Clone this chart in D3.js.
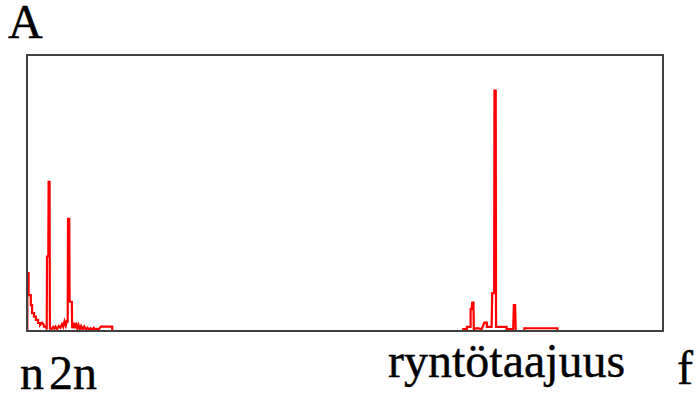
<!DOCTYPE html>
<html>
<head>
<meta charset="utf-8">
<script src="https://cdn.jsdelivr.net/npm/d3@7"></script>
<style>
  body { margin: 0; background: #fff; }
</style>
</head>
<body>
<svg></svg>
<script>
let width = 699, height = 394;

// spectrum near n, 2n (frequency in arbitrary units, amplitude in % of box height)
let lowFreq = [0.1, 0.1, 0.5, 0.5, 1.2, 1.2, 1.6, 1.6, 2.2, 2.2, 2.8, 2.8, 3.5, 3.5, 4.1, 4.1, 4.7, 5.3, 5.3, 6.0,
  6.2, 6.3, 6.7, 6.8, 7.1, 7.2, 7.6, 8.2, 8.6, 9.0, 9.5, 10.0, 10.5, 11.0, 11.4, 11.8, 12.2, 12.6, 12.8,
  12.9, 13.3, 13.4, 14.1, 14.2, 14.6, 15.0, 15.4, 15.8, 16.2, 16.6, 17.0, 17.5, 18.0, 18.5, 19.0, 19.5,
  20.0, 20.5, 21.0, 21.5, 22.0, 22.5, 23.2, 26.8, 26.8];
let lowAmp = [0, 21, 21, 13, 13, 9.4, 9.4, 6.5, 6.5, 5.2, 5.2, 4, 4, 2.9, 2.9, 2.2, 3, 2.2, 1.6, 1.6,
  0.5, 27, 27, 54, 54, 1, 0.5, 1.5, 0.8, 1.6, 0.7, 1.8, 1.2, 2.5, 1.5, 3.5, 2.0, 4.0, 3,
  40.6, 40.6, 10.6, 10.6, 1, 3, 1, 3, 0.8, 2.2, 0.6, 1.8, 0.6, 1.6, 0.5, 1.2, 0.5,
  1.0, 0.4, 1.2, 0.5, 0.8, 0.4, 1.6, 1.6, 0];

// spectrum around the sampling frequency (ryntötaajuus)
let highFreq = [137.2, 137.2, 138.3, 138.3, 139.5, 139.5, 139.8, 140.0, 140.4, 140.5, 141.5, 143.0, 143.8, 144.6,
  144.6, 146.1, 146.3, 146.9, 147.0, 147.4, 147.5, 150.8, 150.8, 152.9, 153.1, 153.5, 153.7, 156.4,
  156.4, 166.8, 166.8];
let highAmp = [0, 0.7, 0.7, 1.5, 1.5, 7.9, 7.9, 10.3, 10.3, 0.7, 1, 0.7, 3, 3,
  1.5, 1.5, 13.7, 13.7, 87.1, 87.1, 1.5, 1.5, 0.7, 0.7, 9.4, 9.4, 0, 0,
  1, 1, 0];

let svg = d3.select("svg")
    .attr("width", width)
    .attr("height", height);

let x = d3.scaleLinear().domain([0, 200]).range([27, 663]);
let y = d3.scaleLinear().domain([0, 100]).range([331, 55]);

let line = d3.line()
    .x(d => x(d[0]))
    .y(d => y(d[1]));

[[lowFreq, lowAmp], [highFreq, highAmp]].forEach(s => {
  svg.append("path")
      .datum(d3.zip(s[0], s[1]))
      .attr("d", line)
      .attr("fill", "none")
      .attr("stroke", "#ff0000")
      .attr("stroke-width", 2.2);
});

// frame
svg.append("rect")
    .attr("x", x(0))
    .attr("y", y(100))
    .attr("width", x(200) - x(0))
    .attr("height", y(0) - y(100))
    .attr("fill", "none")
    .attr("stroke", "#404040")
    .attr("stroke-width", 2);

// labels
let labels = [
  { t: "A", x: 8, y: 38 },
  { t: "n", x: 20, y: 389 },
  { t: "2n", x: 49, y: 389 },
  { t: "ryntötaajuus", x: 388, y: 377 },
  { t: "f", x: 677, y: 384 }
];
svg.selectAll(".lbl")
    .data(labels)
    .enter()
    .append("text")
    .attr("class", "lbl")
    .attr("x", d => d.x)
    .attr("y", d => d.y)
    .style("font-family", "'Liberation Serif'")
    .style("font-size", "48px")
    .style("fill", "#000")
    .style("stroke", "#000")
    .style("stroke-width", 0.4);
svg.selectAll(".lbl").text(d => d.t);
</script>
</body>
</html>
